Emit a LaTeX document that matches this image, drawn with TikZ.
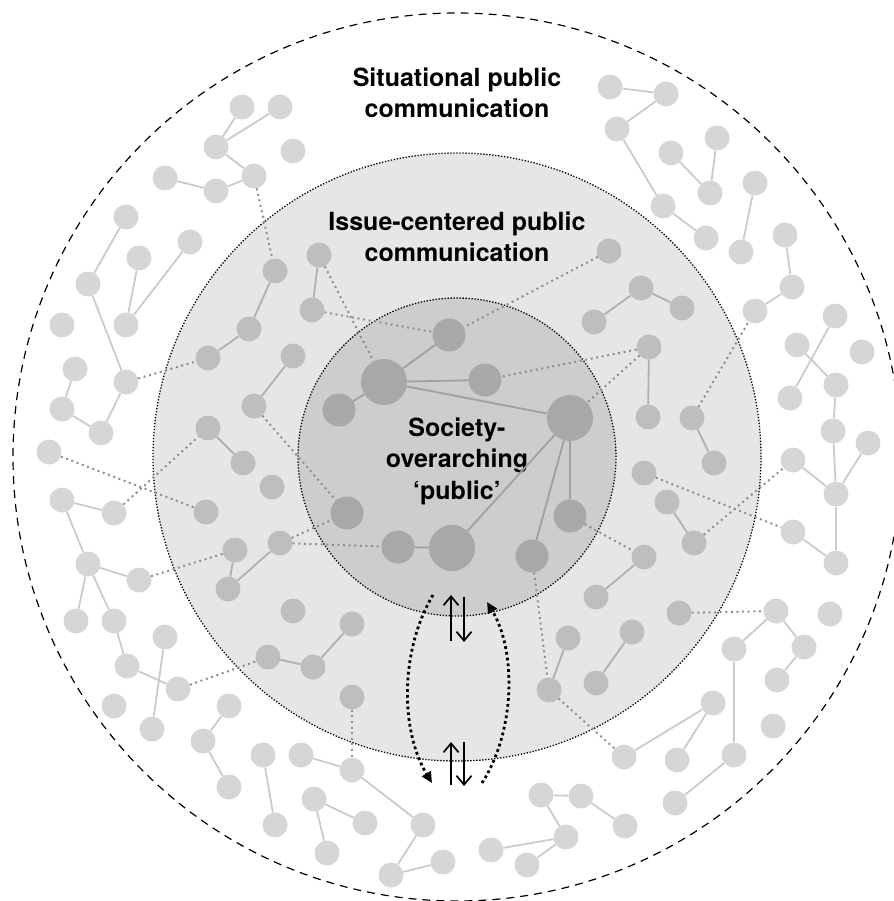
\documentclass[tikz,border=0pt]{standalone}
\usepackage{fontspec}
\setmainfont{TeX Gyre Heros}
\usepackage{tikz}
\usetikzlibrary{shapes,positioning,calc}
\usetikzlibrary{arrows.meta}
\definecolor{ringmid}{HTML}{E6E6E6}
\definecolor{ringin}{HTML}{CDCDCD}
\definecolor{dotlight}{HTML}{D6D6D6}
\definecolor{dotmid}{HTML}{BEBEBE}
\definecolor{dotin}{HTML}{A8A8A8}
\definecolor{linkgray}{HTML}{8F8F8F}
\tikzstyle{ledge} = [draw=dotlight!95!black, line width=1.8pt]
\tikzstyle{medge} = [draw=dotmid!92!black, line width=1.8pt]
\tikzstyle{iedge} = [draw=dotin!95!black, line width=1.8pt]
\tikzstyle{link} = [draw=linkgray, line width=2pt, dash pattern=on 2pt off 3.6pt]
\tikzstyle{flow} = [black, line width=2.8pt, dash pattern=on 2.8pt off 3pt, -{Triangle[length=11pt,width=10pt]}]
\tikzstyle{updown} = [black, line width=1.7pt, -{Straight Barb[length=9pt,width=15pt]}]

\begin{document}
\begin{tikzpicture}[x=1pt, y=-1pt,
	ring/.style={circle, inner sep=0pt, minimum size=#1},
	lnode/.style={circle, fill=dotlight, inner sep=0pt, minimum size=25pt},
	mnode/.style={circle, fill=dotmid, inner sep=0pt, minimum size=25pt},
	inode/.style={circle, fill=dotin, inner sep=0pt, minimum size=33pt},
	bignode/.style={circle, fill=dotin, inner sep=0pt, minimum size=46pt},
	title/.style={align=center, font=\fontsize{25}{31.5}\selectfont\bfseries}]
	
	\useasboundingbox (0,0) rectangle (893,901);
	
	% RINGS
	
	\node [ring=888pt, draw=black, line width=1.2pt, dash pattern=on 8pt off 6pt] (situational) at (457,457) {};
	\node [ring=608pt, fill=ringmid, draw=black, line width=1.3pt, dash pattern=on 1.3pt off 1.7pt] (issue) at (457,457) {};
	\node [ring=318pt, fill=ringin, draw=black, line width=1.3pt, dash pattern=on 1.3pt off 1.7pt] (society) at (457,457) {};
	
	% TITLES
	
	\node [title] (situationaltitle) at (457,93) {Situational public\\communication};
	\node [title] (issuetitle) at (457,237) {Issue-centered public\\communication};
	\node [title] (societytitle) at (457,461) {Society-\\overarching\\‘public’};
	
	% SITUATIONAL NODES
	
	\node [lnode] (a1) at (242,107) {}; \node [lnode] (a2) at (280,107) {};
	\node [lnode] (a3) at (216,147) {}; \node [lnode] (a4) at (293,151) {};
	\node [lnode] (a5) at (165,178) {}; \node [lnode] (a6) at (216,191) {};
	\node [lnode] (a7) at (254,176) {};
	
	\node [lnode] (b1) at (126,217) {}; \node [lnode] (b2) at (190,242) {};
	\node [lnode] (b3) at (139,258) {}; \node [lnode] (b4) at (88,284) {};
	\node [lnode] (b5) at (126,325) {}; \node [lnode] (b6) at (62,325) {};
	\node [lnode] (b7) at (75,369) {}; \node [lnode] (b8) at (126,382) {};
	\node [lnode] (b9) at (62,409) {}; \node [lnode] (b10) at (101,433) {};
	\node [lnode] (b11) at (49,452) {};
	
	\node [lnode] (d2) at (62,500) {}; \node [lnode] (d3) at (114,513) {};
	\node [lnode] (d4) at (88,564) {}; \node [lnode] (d5) at (139,580) {};
	\node [lnode] (d6) at (76,621) {}; \node [lnode] (d7) at (114,621) {};
	\node [lnode] (d8) at (165,637) {}; \node [lnode] (d9) at (127,666) {};
	\node [lnode] (d10) at (178,689) {}; \node [lnode] (d11) at (114,706) {};
	\node [lnode] (d12) at (152,729) {}; \node [lnode] (d13) at (229,706) {};
	\node [lnode] (d14) at (203,741) {}; \node [lnode] (d15) at (229,787) {};
	\node [lnode] (d16) at (263,755) {}; \node [lnode] (d17) at (275,825) {};
	\node [lnode] (d18) at (301,755) {}; \node [lnode] (d19) at (352,770) {};
	\node [lnode] (d20) at (314,799) {}; \node [lnode] (d21) at (365,823) {};
	\node [lnode] (d22) at (327,853) {}; \node [lnode] (d23) at (423,825) {};
	\node [lnode] (d24) at (391,875) {}; \node [lnode] (d25) at (443,862) {};
	
	\node [lnode] (c1) at (610,87) {}; \node [lnode] (c2) at (666,94) {};
	\node [lnode] (c3) at (617,129) {}; \node [lnode] (c4) at (671,153) {};
	\node [lnode] (c5) at (717,138) {}; \node [lnode] (c6) at (710,193) {};
	\node [lnode] (c7) at (755,183) {}; \node [lnode] (c8) at (663,206) {};
	\node [lnode] (c9) at (706,238) {}; \node [lnode] (c10) at (741,252) {};
	\node [lnode] (c11) at (785,235) {}; \node [lnode] (c12) at (792,287) {};
	\node [lnode] (c13) at (755,311) {}; \node [lnode] (c14) at (835,316) {};
	\node [lnode] (c15) at (797,345) {}; \node [lnode] (c16) at (862,352) {};
	\node [lnode] (c17) at (790,398) {}; \node [lnode] (c18) at (836,385) {};
	\node [lnode] (c19) at (833,431) {}; \node [lnode] (c20) at (868,443) {};
	
	\node [lnode] (e1) at (793,460) {}; \node [lnode] (e2) at (836,494) {};
	\node [lnode] (e5) at (793,532) {}; \node [lnode] (e6) at (836,563) {};
	\node [lnode] (e7) at (776,611) {}; \node [lnode] (e8) at (830,614) {};
	\node [lnode] (e9) at (734,649) {}; \node [lnode] (e10) at (804,647) {};
	\node [lnode] (e11) at (777,680) {}; \node [lnode] (e12) at (713,703) {};
	\node [lnode] (e13) at (773,726) {}; \node [lnode] (e14) at (624,757) {};
	\node [lnode] (e15) at (677,760) {}; \node [lnode] (e16) at (734,755) {};
	\node [lnode] (e17) at (675,803) {}; \node [lnode] (e18) at (541,795) {};
	\node [lnode] (e19) at (581,796) {}; \node [lnode] (e20) at (625,826) {};
	\node [lnode] (e21) at (566,837) {}; \node [lnode] (e22) at (491,850) {};
	\node [lnode] (e23) at (527,865) {};
	
	% ISSUE NODES
	
	\node [mnode] (m1) at (275,271) {}; \node [mnode] (m2) at (319,255) {};
	\node [mnode] (m3) at (312,310) {}; \node [mnode] (m4) at (249,329) {};
	\node [mnode] (m5) at (208,358) {}; \node [mnode] (m6) at (293,356) {};
	\node [mnode] (m7) at (254,406) {}; \node [mnode] (m8) at (208,428) {};
	
	\node [mnode] (p0) at (243,463) {}; \node [mnode] (p00) at (272,487) {};
	\node [mnode] (p1) at (206,512) {}; \node [mnode] (p2) at (235,550) {};
	\node [mnode] (p3) at (280,543) {}; \node [mnode] (p4) at (228,589) {};
	\node [mnode] (p5) at (293,611) {}; \node [mnode] (p6) at (352,624) {};
	\node [mnode] (p7) at (268,657) {}; \node [mnode] (p8) at (313,667) {};
	\node [mnode] (p9) at (352,697) {};
	
	\node [mnode] (n1) at (609,251) {}; \node [mnode] (n2) at (641,288) {};
	\node [mnode] (n3) at (682,308) {}; \node [mnode] (n4) at (594,322) {};
	\node [mnode] (n5) at (649,347) {}; \node [mnode] (n6) at (648,417) {};
	\node [mnode] (n7) at (692,418) {};
	
	\node [mnode] (q1) at (644,473) {}; \node [mnode] (q2) at (714,463) {};
	\node [mnode] (q3) at (667,502) {}; \node [mnode] (q4) at (694,543) {};
	\node [mnode] (q5) at (644,557) {}; \node [mnode] (q6) at (596,597) {};
	\node [mnode] (q7) at (679,613) {}; \node [mnode] (q8) at (568,638) {};
	\node [mnode] (q9) at (632,632) {}; \node [mnode] (q10) at (549,690) {};
	\node [mnode] (q11) at (596,683) {};
	
	% SOCIETY NODES
	
	\node [bignode] (hubnw) at (384,382) {};
	\node [bignode] (hubne) at (570,418) {};
	\node [bignode] (hubs) at (452,548) {};
	\node [inode] (s1) at (449,335) {}; \node [inode] (s2) at (339,410) {};
	\node [inode] (s3) at (485,380) {}; \node [inode] (s4) at (570,516) {};
	\node [inode] (s5) at (532,556) {}; \node [inode] (s6) at (398,547) {};
	\node [inode] (s7) at (347,513) {};
	
	% TIES
	
	\draw [ledge] (a1) -- (a3); \draw [ledge] (a2) -- (a3); \draw [ledge] (a3) -- (a7);
	\draw [ledge] (a5) -- (a6); \draw [ledge] (a6) -- (a7);
	\draw [ledge] (b1) -- (b4); \draw [ledge] (b4) -- (b8); \draw [ledge] (b3) -- (b5);
	\draw [ledge] (b2) -- (b5); \draw [ledge] (b7) -- (b9); \draw [ledge] (b9) -- (b10);
	\draw [ledge] (b10) -- (b8);
	\draw [ledge] (d2) -- (d3); \draw [ledge] (d2) -- (d4); \draw [ledge] (d4) -- (d5);
	\draw [ledge] (d4) -- (d6); \draw [ledge] (d4) -- (d7); \draw [ledge] (d7) -- (d9);
	\draw [ledge] (d9) -- (d10); \draw [ledge] (d8) -- (d12); \draw [ledge] (d13) -- (d14);
	\draw [ledge] (d14) -- (d15); \draw [ledge] (d16) -- (d17); \draw [ledge] (d18) -- (d19);
	\draw [ledge] (d19) -- (d23); \draw [ledge] (d20) -- (d21); \draw [ledge] (d20) -- (d22);
	\draw [ledge] (d23) -- (d24); \draw [ledge] (d24) -- (d25);
	\draw [ledge] (c1) -- (c2); \draw [ledge] (c2) -- (c3); \draw [ledge] (c3) -- (c8);
	\draw [ledge] (c8) -- (c9); \draw [ledge] (c4) -- (c6); \draw [ledge] (c5) -- (c6);
	\draw [ledge] (c7) -- (c10); \draw [ledge] (c11) -- (c12); \draw [ledge] (c12) -- (c13);
	\draw [ledge] (c14) -- (c17); \draw [ledge] (c15) -- (c18); \draw [ledge] (c18) -- (c19);
	\draw [ledge] (c19) -- (e2); \draw [ledge] (c20) -- (e2);
	\draw [ledge] (e1) -- (e2); \draw [ledge] (e2) -- (e6); \draw [ledge] (e5) -- (e6);
	\draw [ledge] (e7) -- (e9); \draw [ledge] (e7) -- (e10); \draw [ledge] (e10) -- (e11);
	\draw [ledge] (e9) -- (e16); \draw [ledge] (e12) -- (e14); \draw [ledge] (e12) -- (e15);
	\draw [ledge] (e16) -- (e17); \draw [ledge] (e18) -- (e19); \draw [ledge] (e18) -- (e21);
	\draw [ledge] (e19) -- (e20); \draw [ledge] (e21) -- (e22); \draw [ledge] (e21) -- (e23);
	
	\draw [medge] (m1) -- (m4); \draw [medge] (m4) -- (m5); \draw [medge] (m2) -- (m3);
	\draw [medge] (m6) -- (m7); \draw [medge] (m8) -- (p0); \draw [medge] (p2) -- (p4);
	\draw [medge] (p4) -- (p3); \draw [medge] (p7) -- (p8); \draw [medge] (p8) -- (p6);
	\draw [medge] (n4) -- (n2); \draw [medge] (n2) -- (n3); \draw [medge] (n5) -- (n6);
	\draw [medge] (n7) -- (q2); \draw [medge] (q3) -- (q4); \draw [medge] (q5) -- (q6);
	\draw [medge] (q8) -- (q10); \draw [medge] (q9) -- (q11);
	
	\draw [iedge] (s2) -- (hubnw); \draw [iedge] (hubnw) -- (s1); \draw [iedge] (hubnw) -- (s3);
	\draw [iedge] (hubnw) -- (hubne); \draw [iedge] (hubne) -- (hubs); \draw [iedge] (hubne) -- (s5);
	\draw [iedge] (hubne) -- (s4); \draw [iedge] (s6) -- (hubs);
	
	% LINKS ACROSS RINGS
	
	\draw [link] (a7) -- (m1); \draw [link] (m2) -- (hubnw); \draw [link] (m3) -- (s1);
	\draw [link] (b8) -- (m5); \draw [link] (m7) -- (s7); \draw [link] (b11) -- (p1);
	\draw [link] (d3) -- (m8); \draw [link] (d5) -- (p2); \draw [link] (d10) -- (p7);
	\draw [link] (p9) -- (d19); \draw [link] (p3) -- (s7); \draw [link] (p3) -- (s6);
	\draw [link] (n1) -- (s1); \draw [link] (n5) -- (s3); \draw [link] (n5) -- (hubne);
	\draw [link] (n7) -- (c13); \draw [link] (q1) -- (e5); \draw [link] (s4) -- (q5);
	\draw [link] (q4) -- (e1); \draw [link] (q7) -- (e7); \draw [link] (s5) -- (q10);
	\draw [link] (q10) -- (e14);
	
	% EXCHANGE
	
	\coordinate (downstart) at (433,595); \coordinate (downend) at (432,783);
	\coordinate (upstart) at (482,783); \coordinate (upend) at (487,602);
	\draw [flow] (downstart) .. controls (400,650) and (400,730) .. (downend);
	\draw [flow] (upstart) .. controls (516,730) and (516,650) .. (upend);
	
	\coordinate (upperup1) at (451,641); \coordinate (upperup2) at (451,595);
	\coordinate (upperdown1) at (464,597); \coordinate (upperdown2) at (464,642);
	\coordinate (lowerup1) at (451,785); \coordinate (lowerup2) at (451,742);
	\coordinate (lowerdown1) at (464,742); \coordinate (lowerdown2) at (464,786);
	\draw [updown] (upperup1) -- (upperup2); \draw [updown] (upperdown1) -- (upperdown2);
	\draw [updown] (lowerup1) -- (lowerup2); \draw [updown] (lowerdown1) -- (lowerdown2);
	
\end{tikzpicture}
\end{document}
